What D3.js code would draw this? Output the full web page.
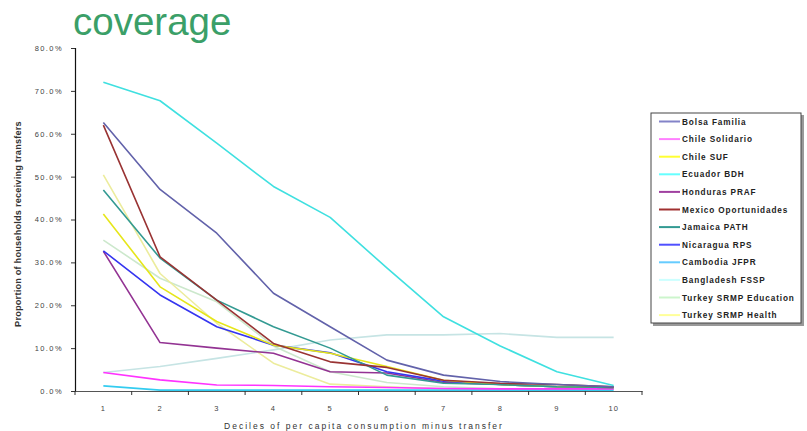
<!DOCTYPE html>
<html><head><meta charset="utf-8">
<script src="https://cdn.jsdelivr.net/npm/d3@7"></script>
<style>body{margin:0;background:#fff}svg{display:block}text{font-family:"Liberation Sans",Arial,sans-serif}</style>
</head><body><div id="chart"></div>
<script>
const deciles = ["1","2","3","4","5","6","7","8","9","10"];
const yTicks = [0,10,20,30,40,50,60,70,80];
const seriesNames = ["Bolsa Familia","Chile Solidario","Chile SUF","Ecuador BDH","Honduras PRAF","Mexico Oportunidades","Jamaica  PATH","Nicaragua RPS","Cambodia  JFPR","Bangladesh FSSP","Turkey SRMP Education","Turkey SRMP Health"];
const bolsaFamilia   = [62.6,47.0,36.8,22.8,15.0,7.2,3.7,2.2,1.5,1.0];
const chileSolidario = [4.3,2.6,1.4,1.3,1.0,0.8,0.6,0.5,0.5,0.5];
const chileSUF       = [41.3,24.3,16.2,10.7,8.8,5.7,2.5,1.5,1.0,0.8];
const ecuadorBDH     = [72.0,67.7,57.8,47.7,40.5,28.7,17.3,10.5,4.5,1.3];
const hondurasPRAF   = [32.6,11.3,10.0,8.8,4.5,4.2,2.0,1.5,1.0,0.8];
const mexicoOport    = [62.0,31.3,21.2,11.1,6.8,5.5,2.5,1.8,1.5,1.0];
const jamaicaPATH    = [46.9,31.0,21.2,15.0,10.0,3.7,1.8,1.5,1.0,0.8];
const nicaraguaRPS   = [32.7,22.4,15.0,10.7,8.9,4.5,2.3,1.5,1.0,0.8];
const cambodiaJFPR   = [1.2,0.2,0.2,0.2,0.2,0.2,0.2,0.2,0.2,0.2];
const bangladeshFSSP = [4.3,5.7,7.6,9.6,11.9,13.1,13.1,13.4,12.5,12.5];
const turkeyEdu      = [35.2,26.3,20.8,10.5,4.5,2.0,1.0,0.5,0.5,0.5];
const turkeyHealth   = [50.4,27.4,15.8,6.5,1.6,1.0,0.5,0.4,0.4,0.4];
const seriesValues = [bolsaFamilia,chileSolidario,chileSUF,ecuadorBDH,hondurasPRAF,mexicoOport,jamaicaPATH,nicaraguaRPS,cambodiaJFPR,bangladeshFSSP,turkeyEdu,turkeyHealth];
const lineColors = ["#6262aa","#ff33ff","#e6e61a","#3fe0e0","#933393","#993333","#339a92","#3535f0","#33ccf0","#c6e4e4","#cce8cc","#ecec9c"];
const legendColors = ["#8383c8","#ff80ff","#ffff33","#66ffff","#a040a0","#a03030","#339a92","#5050ff","#66ccff","#ccffff","#ccf5cc","#ffff99"];

const W = 807, H = 431;
const svg = d3.select("#chart").append("svg").attr("width", W).attr("height", H);
const pLeft = 75, pRight = 642, pTop = 48, pBottom = 391;

const x = d3.scaleBand().domain(deciles).range([pLeft, pRight]).padding(0);
const y = d3.scaleLinear().domain([0, 80]).range([pBottom, pTop]);

// title
svg.append("text").attr("x", 73).attr("y", 35).attr("font-size", 38.5)
  .attr("fill", "#3b9f68").text("coverage");

// y axis
const yAxis = d3.axisLeft(y).tickValues(yTicks).tickSize(4).tickFormat(d => d.toFixed(1) + "%");
const gy = svg.append("g").attr("transform", `translate(${pLeft},0)`).call(yAxis);
gy.select(".domain").attr("stroke", "#111").attr("stroke-width", 1.2);
gy.selectAll(".tick line").attr("stroke", "#333");
gy.selectAll(".tick text").attr("font-size", 7.5).attr("fill", "#444").attr("x", -12)
  .attr("letter-spacing", "1.4px");

// x axis
const xAxis = d3.axisBottom(x).tickSize(0);
const gx = svg.append("g").attr("transform", `translate(0,${pBottom})`).call(xAxis);
gx.select(".domain").attr("stroke", "#555").attr("stroke-width", 1.2);
gx.selectAll(".tick text").attr("font-size", 7.5).attr("fill", "#444").attr("dy", 0).attr("y", 20)
  .attr("letter-spacing", "1px");
gx.selectAll(".bnd").data(deciles.concat(["end"])).enter().append("line")
  .attr("x1", (d,i) => i < deciles.length ? x(d) : x(deciles[deciles.length-1]) + x.bandwidth())
  .attr("x2", (d,i) => i < deciles.length ? x(d) : x(deciles[deciles.length-1]) + x.bandwidth())
  .attr("y1", 0).attr("y2", 4).attr("stroke", "#333");

// axis titles
svg.append("text").attr("x", 364).attr("y", 429).attr("text-anchor", "middle")
  .attr("font-size", 8.5).attr("fill", "#333").attr("letter-spacing", "2px")
  .text("Deciles of per capita consumption minus transfer");
svg.append("text").attr("transform", "translate(21,224) rotate(-90)").attr("text-anchor", "middle")
  .attr("font-size", 9.2).attr("font-weight", "bold").attr("fill", "#333").attr("letter-spacing", "0.2px")
  .text("Proportion of households receiving transfers");

// lines
const line = d3.line().x((d,i) => x(deciles[i]) + x.bandwidth()/2).y(d => y(d));
const drawOrder = [9,10,11,8,1,4,7,2,6,5,0,3];
drawOrder.forEach(k => {
  svg.append("path").datum(seriesValues[k]).attr("d", line).attr("fill", "none")
    .attr("stroke", lineColors[k]).attr("stroke-width", 1.6).attr("stroke-linejoin", "round");
});

// legend
const lg = svg.append("g");
lg.append("rect").attr("x", 653).attr("y", 115).attr("width", 151).attr("height", 211).attr("fill", "#999");
lg.append("rect").attr("x", 651).attr("y", 113).attr("width", 150).attr("height", 210)
  .attr("fill", "#fff").attr("stroke", "#444").attr("stroke-width", 1);
seriesNames.forEach((n, i) => {
  const yy = 121.5 + i * 17.6;
  lg.append("line").attr("x1", 659).attr("x2", 680).attr("y1", yy).attr("y2", yy)
    .attr("stroke", legendColors[i]).attr("stroke-width", 2);
  lg.append("text").attr("x", 682).attr("y", yy + 3).attr("font-size", 8.2).attr("font-weight", "bold")
    .attr("fill", "#222").attr("letter-spacing", "0.9px").text(n);
});
</script></body></html>
